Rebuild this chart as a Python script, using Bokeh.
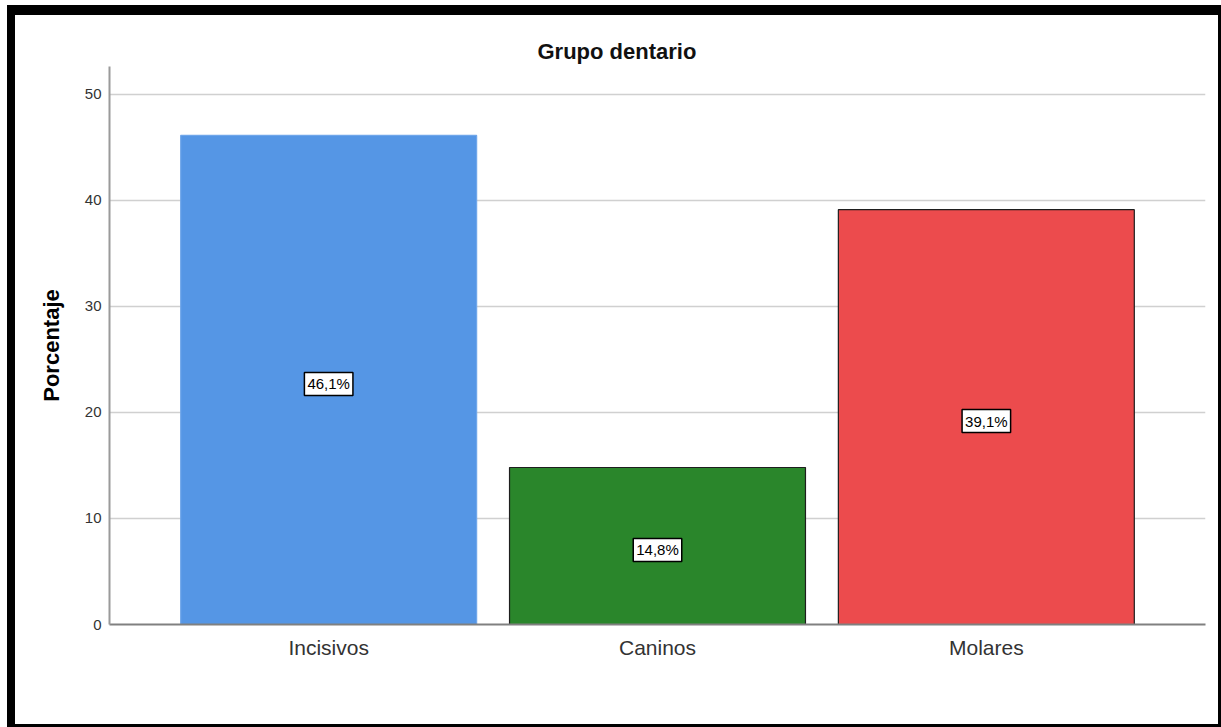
from bokeh.plotting import figure
from bokeh.models import FactorRange, Range1d, FixedTicker, Label, Title
from bokeh.embed import file_html
from bokeh.resources import INLINE

# Tooth group shares (%)
categories = ["Incisivos", "Caninos", "Molares"]
percentages = [46.1, 14.8, 39.1]
bar_colors = ["#5596E5", "#2A862B", "#EC4B4D"]
edge_colors = ["#6FA6EA", "#1E1E1E", "#1E1E1E"]
y_ticks = [0, 10, 20, 30, 40, 50]

FONT = "Liberation Sans"

p = figure(
    x_range=FactorRange(*categories, range_padding=0.111, factor_padding=0),
    y_range=Range1d(0, 52.6),
    width=1203, height=709,
    output_backend="svg", toolbar_location=None,
    min_border_left=94, min_border_right=24,
    min_border_top=51, min_border_bottom=113,
    background_fill_color="white", border_fill_color="white",
)
p.outline_line_color = None
p.styles = {
    "box-sizing": "content-box",
    "margin-left": "7px", "margin-top": "5px",
    "border-left": "8px solid black", "border-top": "10px solid black",
    "border-right": "3px solid black", "border-bottom": "3px solid black",
}

p.title = None
p.add_layout(Title(text="Grupo dentario", align="left", offset=428,
                   text_font=FONT, text_font_size="22px", text_font_style="bold",
                   text_color="#111111", standoff=5), "above")

p.vbar(x=categories, top=percentages, width=0.9,
       fill_color=bar_colors, line_color=edge_colors, line_width=1.2)

# Value boxes at mid-height of each bar; a factor's synthetic coordinate is index + 0.5
for i, val in enumerate(percentages):
    p.add_layout(Label(
        x=i + 0.5, y=val / 2, y_offset=-4,
        text=f"{val:.1f}%".replace(".", ","),
        text_align="center", text_baseline="middle",
        text_font=FONT, text_font_size="15px", text_color="black",
        background_fill_color="white", border_line_color="black",
        border_line_width=1.5, padding=3,
    ))

# y axis
p.yaxis.ticker = FixedTicker(ticks=y_ticks)
p.yaxis.axis_label = "Porcentaje"
p.yaxis.axis_label_text_font = FONT
p.yaxis.axis_label_text_font_size = "22px"
p.yaxis.axis_label_text_font_style = "bold"
p.yaxis.axis_label_text_color = "black"
p.yaxis.axis_label_standoff = 18
p.yaxis.major_label_text_font = FONT
p.yaxis.major_label_text_font_size = "15px"
p.yaxis.major_label_text_color = "#333333"
p.yaxis.major_label_standoff = 8
p.yaxis.major_tick_out = 0
p.yaxis.major_tick_in = 0
p.yaxis.minor_tick_out = 0
p.yaxis.minor_tick_in = 0
p.yaxis.major_tick_line_color = None
p.yaxis.minor_tick_line_color = None
p.yaxis.axis_line_color = "#9A9A9A"
p.yaxis.axis_line_width = 2

# x axis
p.xaxis.major_label_text_font = FONT
p.xaxis.major_label_text_font_size = "21px"
p.xaxis.major_label_text_color = "#333333"
p.xaxis.major_label_standoff = 11
p.xaxis.major_tick_out = 0
p.xaxis.major_tick_in = 0
p.xaxis.major_tick_line_color = None
p.xaxis.minor_tick_line_color = None
p.xaxis.axis_line_color = "#808080"
p.xaxis.axis_line_width = 2

p.xgrid.grid_line_color = None
p.ygrid.grid_line_color = "#D0D0D0"
p.ygrid.grid_line_width = 1.5

open("out.html", "w").write(file_html(p, INLINE))
